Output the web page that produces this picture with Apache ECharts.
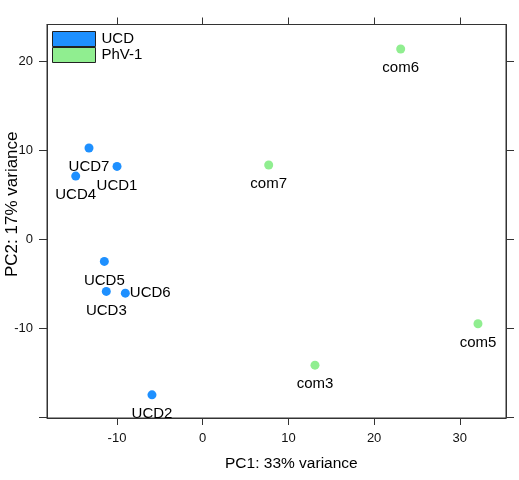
<!DOCTYPE html>
<html>
<head>
<meta charset="utf-8">
<script src="https://cdn.jsdelivr.net/npm/echarts@6/dist/echarts.min.js"></script>
<style>html,body{margin:0;padding:0;background:#fff}#c{width:519px;height:480px}</style>
</head>
<body>
<div id="c"></div>
<script>
// Data
var sampleNames = ['UCD7','UCD1','UCD4','UCD5','UCD3','UCD6','UCD2','com6','com7','com5','com3'];
var pc1 = [-13.27, -10.0, -14.82, -11.48, -11.25, -9.03, -5.92, 23.1, 7.7, 32.12, 13.1];
var pc2 = [10.24, 8.18, 7.09, -2.48, -5.85, -6.04, -17.45, 21.35, 8.33, -9.48, -14.12];
var groups = ['UCD','UCD','UCD','UCD','UCD','UCD','UCD','PhV-1','PhV-1','PhV-1','PhV-1'];
var groupNames = ['UCD','PhV-1'];
var groupColors = ['#1E90FF','#90EE90'];
var xTicks = [-10, 0, 10, 20, 30];
var yTicks = [-20, -10, 0, 10, 20];
var yTickLabels = [-10, 0, 10, 20];
var xTitle = 'PC1: 33% variance';
var yTitle = 'PC2: 17% variance';

var FONT = 'Liberation Sans, Arial, Helvetica, sans-serif';
var chart = echarts.init(document.getElementById('c'));

var series = groupNames.map(function (g, gi) {
  var data = [];
  for (var i = 0; i < sampleNames.length; i++) {
    if (groups[i] === g) {
      var item = { value: [pc1[i], pc2[i]], name: sampleNames[i] };
      if (sampleNames[i] === 'UCD6') {
        item.label = { position: 'right', distance: 0 };
      }
      data.push(item);
    }
  }
  return {
    name: g,
    type: 'scatter',
    symbol: 'circle',
    symbolSize: 9,
    itemStyle: { color: groupColors[gi], opacity: 1 },
    label: {
      show: true,
      position: 'bottom',
      distance: 7,
      formatter: function (p) { return p.name; },
      color: '#000',
      fontSize: 15,
      fontFamily: FONT
    },
    emphasis: { disabled: true },
    data: data
  };
});

var xMin = -18.17, xMax = 35.39, yMin = -20.05, yMax = 24.1;
var axisLineStyle = { show: true, onZero: false, lineStyle: { color: '#333', width: 1 } };
var tickStyle = { lineStyle: { color: '#333', width: 1 } };

chart.setOption({
  animation: false,
  backgroundColor: '#fff',
  grid: { left: 47, right: 13, top: 24.5, bottom: 62, containLabel: false,
          show: true, borderColor: '#333', borderWidth: 1, backgroundColor: 'transparent' },
  legend: {
    orient: 'vertical',
    left: 52,
    top: 31,
    itemGap: 0,
    itemWidth: 43,
    itemHeight: 15,
    icon: 'rect',
    itemStyle: { borderColor: '#222', borderWidth: 1 },
    textStyle: { fontSize: 15, fontFamily: FONT, color: '#000', lineHeight: 15, padding: [0, 0, 0, 1] },
    padding: 0,
    data: groupNames
  },
  xAxis: [{
    type: 'value', position: 'bottom', min: xMin, max: xMax,
    axisLine: axisLineStyle, splitLine: { show: false },
    axisTick: Object.assign({ show: true, length: 7, customValues: xTicks }, tickStyle),
    axisLabel: { customValues: xTicks, fontSize: 13, fontFamily: FONT, color: '#111', margin: 14 }
  }, {
    type: 'value', position: 'top', min: xMin, max: xMax,
    axisLine: axisLineStyle, splitLine: { show: false },
    axisTick: Object.assign({ show: true, length: 7, customValues: xTicks }, tickStyle),
    axisLabel: { show: false }
  }],
  yAxis: [{
    type: 'value', position: 'left', min: yMin, max: yMax,
    axisLine: axisLineStyle, splitLine: { show: false },
    axisTick: Object.assign({ show: true, length: 8, customValues: yTicks }, tickStyle),
    axisLabel: { customValues: yTickLabels, fontSize: 13, fontFamily: FONT, color: '#111', margin: 14 }
  }, {
    type: 'value', position: 'right', min: yMin, max: yMax,
    axisLine: axisLineStyle, splitLine: { show: false },
    axisTick: Object.assign({ show: true, length: 8, customValues: yTicks }, tickStyle),
    axisLabel: { show: false }
  }],
  graphic: [{
    type: 'text', left: 225, top: 456,
    style: { text: xTitle, fontSize: 15.5, fontFamily: FONT, fill: '#000' }
  }, {
    type: 'text', x: 4, y: 277, rotation: Math.PI / 2,
    style: { text: yTitle, fontSize: 17, fontFamily: FONT, fill: '#000', textAlign: 'left', textVerticalAlign: 'top' }
  }],
  series: series
});
</script>
</body>
</html>
